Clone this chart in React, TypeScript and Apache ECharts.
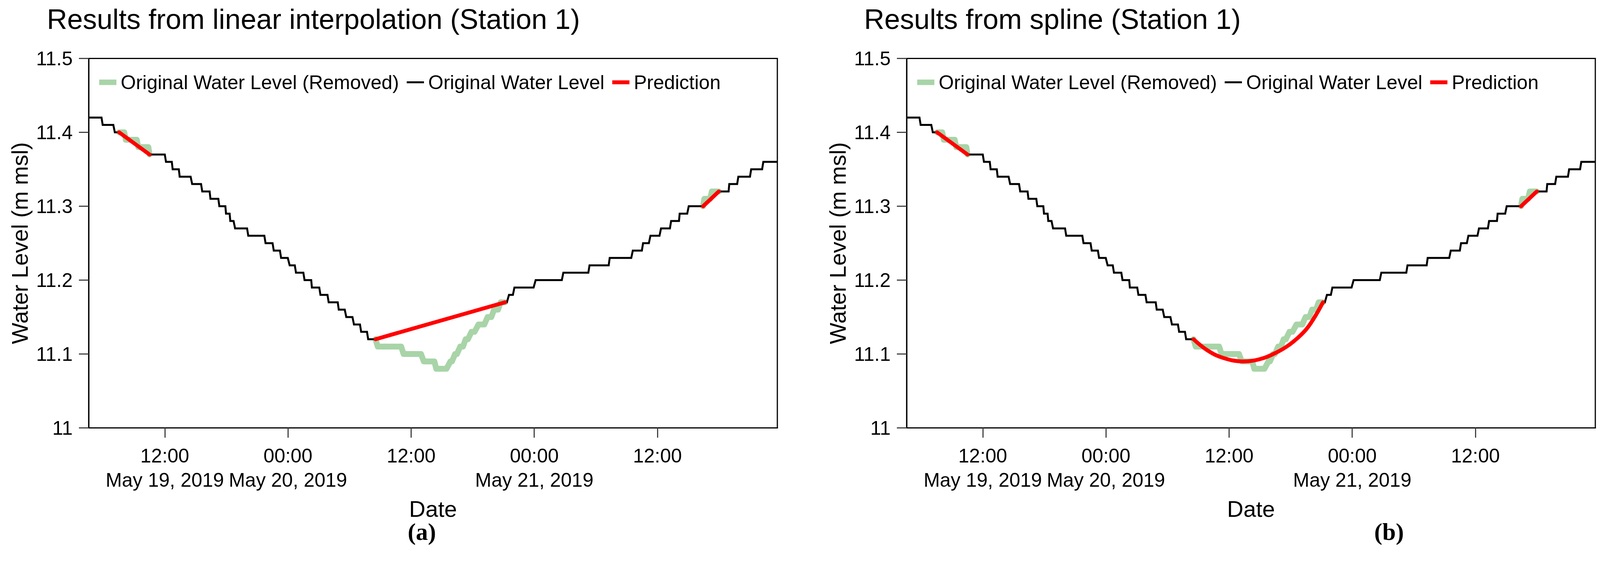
import React, { useEffect, useRef } from 'react';
import * as echarts from 'echarts';

// Time is expressed in minutes since 2019-05-19 00:00
const X_MIN = 275;
const X_MAX = 4301;

// Observed (kept) water level, read as plateaus: level, start minute, end minute
const observedLevel = [
  11.42, 11.41, 11.40,
  11.37, 11.36, 11.35, 11.34, 11.33, 11.32, 11.31, 11.30, 11.29, 11.28, 11.27, 11.26,
  11.25, 11.24, 11.23, 11.22, 11.21, 11.20, 11.19, 11.18, 11.17, 11.16, 11.15, 11.14,
  11.13, 11.12,
  11.17, 11.18, 11.19, 11.20, 11.21, 11.22, 11.23, 11.24, 11.25, 11.26, 11.27, 11.28,
  11.29, 11.30,
  11.32, 11.33, 11.34, 11.35, 11.36,
];
const observedStart = [
  275, 357, 428,
  631, 727, 766, 807, 880, 939, 987, 1039, 1078, 1103, 1131, 1208,
  1309, 1357, 1400, 1450, 1487, 1537, 1580, 1630, 1678, 1737, 1781, 1826,
  1868, 1909,
  2709, 2732, 2764, 2888, 3050, 3203, 3321, 3456, 3516, 3559, 3621, 3680,
  3730, 3783,
  3959, 4020, 4073, 4148, 4219,
];
const observedEnd = [
  350, 419, 453,
  720, 761, 802, 871, 932, 982, 1033, 1074, 1099, 1122, 1201, 1302,
  1350, 1393, 1439, 1480, 1530, 1576, 1623, 1671, 1731, 1772, 1817, 1861,
  1902, 1952,
  2720, 2755, 2876, 3041, 3196, 3315, 3447, 3509, 3550, 3612, 3673, 3726,
  3774, 3867,
  4016, 4066, 4141, 4212, 4301,
];

// Removed (true) water level inside the gaps
const removedLevel = [
  11.40, 11.39, 11.38, 11.37,
  11.12, 11.11, 11.10, 11.09, 11.08, 11.09, 11.10, 11.11, 11.12, 11.13, 11.14, 11.15, 11.16, 11.17,
  11.30, 11.31, 11.32,
];
const removedStart = [
  453, 492, 565, 631,
  1952, 1965, 2116, 2234, 2307, 2390, 2417, 2447, 2479, 2513, 2554, 2607, 2645, 2684,
  3867, 3874, 3918,
];
const removedEnd = [
  483, 556, 624, 631,
  1952, 2102, 2218, 2296, 2367, 2399, 2428, 2463, 2492, 2531, 2588, 2629, 2668, 2709,
  3867, 3908, 3959,
];

// Predictions (segment index separates the gaps)
const linearPredMin = [453, 631, 1952, 2709, 3867, 3959];
const linearPredLevel = [11.40, 11.37, 11.12, 11.17, 11.30, 11.32];
const linearPredSeg = [0, 0, 1, 1, 2, 2];

const splinePredMin = [453, 631, 1952, 2033, 2122, 2243, 2339, 2428, 2515, 2602, 2655, 2709, 3867, 3959];
const splinePredLevel = [11.40, 11.37, 11.12, 11.105, 11.095, 11.09, 11.093, 11.101, 11.113, 11.131, 11.148, 11.17, 11.30, 11.32];
const splinePredSeg = [0, 0, 1, 1, 1, 1, 1, 1, 1, 1, 1, 1, 2, 2];

const xTickMin = [720, 1440, 2160, 2880, 3600];
const xTickLabels = ['12:00\nMay 19, 2019', '00:00\nMay 20, 2019', '12:00', '00:00\nMay 21, 2019', '12:00'];
const yTickValues = [11, 11.1, 11.2, 11.3, 11.4, 11.5];
const yTickLabels = ['11', '11.1', '11.2', '11.3', '11.4', '11.5'];

const titles = ['Results from linear interpolation (Station 1)', 'Results from spline (Station 1)'];
const panelLabels = ['(a)', '(b)'];
const NAME_REMOVED = 'Original Water Level (Removed)';
const NAME_OBS = 'Original Water Level';
const NAME_PRED = 'Prediction';

const FONT = 'Liberation Sans, Arial, sans-serif';

function plateauPoints(level: number[], start: number[], end: number[]) {
  const pts: any[] = [];
  for (let i = 0; i < level.length; i++) {
    if (i > 0 && start[i] - end[i - 1] > 40) pts.push([(start[i] + end[i - 1]) / 2, null]);
    pts.push([start[i], level[i]]);
    if (end[i] !== start[i]) pts.push([end[i], level[i]]);
  }
  return pts;
}

function segPoints(mins: number[], levels: number[], seg: number[]) {
  const pts: any[] = [];
  for (let i = 0; i < mins.length; i++) {
    if (i > 0 && seg[i] !== seg[i - 1]) pts.push([(mins[i] + mins[i - 1]) / 2, null]);
    pts.push([mins[i], levels[i]]);
  }
  return pts;
}

export default function App() {
  const ref = useRef<HTMLDivElement>(null);
  useEffect(() => {
    if (!ref.current) return;
    const chart = echarts.init(ref.current, undefined, { renderer: 'svg' });
    const gridLefts = [227, 2321];
    const gridTop = 149.5;
    const gridW = 1763;
    const gridH = 945;
    const titleLefts = [120, 2212];
    const labelX = [1080, 3556];

    const obs = plateauPoints(observedLevel, observedStart, observedEnd);
    const rem = plateauPoints(removedLevel, removedStart, removedEnd);
    const preds = [
      segPoints(linearPredMin, linearPredLevel, linearPredSeg),
      segPoints(splinePredMin, splinePredLevel, splinePredSeg),
    ];

    const green = 'rgba(0,128,0,0.34)';
    const blackIcon = 'path://M0,0h0.01v0.01h-0.01z M0,4.5h44v5h-44z M43.99,13.99h0.01v0.01h-0.01z';
    const redIcon = 'path://M0,0h0.01v0.01h-0.01z M0,2h44v10h-44z M43.99,13.99h0.01v0.01h-0.01z';

    const grids: any[] = [];
    const xAxes: any[] = [];
    const yAxes: any[] = [];
    const series: any[] = [];
    const legends: any[] = [];
    const titleOpts: any[] = [];
    const graphics: any[] = [];

    for (let k = 0; k < 2; k++) {
      grids.push({
        left: gridLefts[k], top: gridTop, width: gridW, height: gridH,
        show: true, borderColor: '#000', borderWidth: 3, backgroundColor: 'transparent',
      });
      xAxes.push({
        type: 'value', gridIndex: k, min: X_MIN, max: X_MAX,
        splitLine: { show: false },
        axisLine: { show: true, onZero: false, lineStyle: { color: '#000', width: 3 } },
        axisTick: { show: true, customValues: xTickMin, length: 25, lineStyle: { color: '#444', width: 3 } },
        axisLabel: {
          customValues: xTickMin,
          formatter: (v: number) => {
            const i = xTickMin.findIndex((t) => Math.abs(t - v) < 1);
            return i >= 0 ? xTickLabels[i] : '';
          },
          fontSize: 50, lineHeight: 62, color: '#000', margin: 40, fontFamily: FONT,
        },
        name: 'Date', nameLocation: 'middle', nameGap: 178,
        nameTextStyle: { fontSize: 58, color: '#000', fontFamily: FONT },
      });
      yAxes.push({
        type: 'value', gridIndex: k, min: 11, max: 11.5, interval: 0.1,
        splitLine: { show: false },
        axisLine: { show: true, onZero: false, lineStyle: { color: '#000', width: 3 } },
        axisTick: { show: true, length: 25, lineStyle: { color: '#444', width: 3 } },
        axisLabel: {
          formatter: (v: number) => {
            const i = yTickValues.findIndex((t) => Math.abs(t - v) < 1e-6);
            return i >= 0 ? yTickLabels[i] : '';
          },
          fontSize: 50, color: '#000', margin: 41, fontFamily: FONT,
        },
        name: 'Water Level (m msl)', nameLocation: 'middle', nameGap: 148,
        nameTextStyle: { fontSize: 58, color: '#000', fontFamily: FONT },
      });
      series.push({
        name: NAME_REMOVED, type: 'line', xAxisIndex: k, yAxisIndex: k, data: rem,
        showSymbol: false, symbol: 'none', z: 2,
        lineStyle: { color: green, width: 15, cap: 'round', join: 'round' },
        itemStyle: { color: green },
        emphasis: { disabled: true },
      });
      series.push({
        name: NAME_OBS, type: 'line', xAxisIndex: k, yAxisIndex: k, data: obs,
        showSymbol: false, symbol: 'none', z: 3,
        lineStyle: { color: '#000', width: 5, join: 'miter' },
        itemStyle: { color: '#000' },
        emphasis: { disabled: true },
      });
      series.push({
        name: NAME_PRED, type: 'line', xAxisIndex: k, yAxisIndex: k, data: preds[k],
        showSymbol: false, symbol: 'none', z: 4, smooth: k === 1 ? 0.4 : false,
        lineStyle: { color: '#ff0000', width: 10, cap: 'round', join: 'round' },
        itemStyle: { color: '#ff0000' },
        emphasis: { disabled: true },
      });
      legends.push({
        left: gridLefts[k] + 27, top: 185.5, padding: 0, itemGap: 20,
        itemWidth: 44, itemHeight: 14, orient: 'horizontal',
        textStyle: { fontSize: 50, lineHeight: 50, color: '#000', fontFamily: FONT, padding: [0, 0, 0, 6] },
        data: [
          { name: NAME_REMOVED, icon: 'rect' },
          { name: NAME_OBS, icon: blackIcon },
          { name: NAME_PRED, icon: redIcon },
        ],
        selectedMode: false,
      });
      titleOpts.push({
        text: titles[k], left: titleLefts[k], top: 13, padding: 0,
        textStyle: { fontSize: 72, fontWeight: 'normal', color: '#000', fontFamily: FONT },
      });
      graphics.push({
        type: 'text', x: labelX[k], y: 1360,
        style: {
          text: panelLabels[k], fill: '#000', align: 'center', verticalAlign: 'middle',
          font: 'bold 62px "Liberation Serif", "DejaVu Serif", serif',
        },
      });
    }

    chart.setOption({
      animation: false,
      backgroundColor: '#ffffff',
      textStyle: { fontFamily: FONT },
      title: titleOpts,
      legend: legends,
      grid: grids,
      xAxis: xAxes,
      yAxis: yAxes,
      series,
      graphic: graphics,
    });
    return () => chart.dispose();
  }, []);
  return (
    <div
      ref={ref}
      style={{ position: 'absolute', left: 0, top: 0, width: 4100, height: 1481, background: '#fff' }}
    />
  );
}
